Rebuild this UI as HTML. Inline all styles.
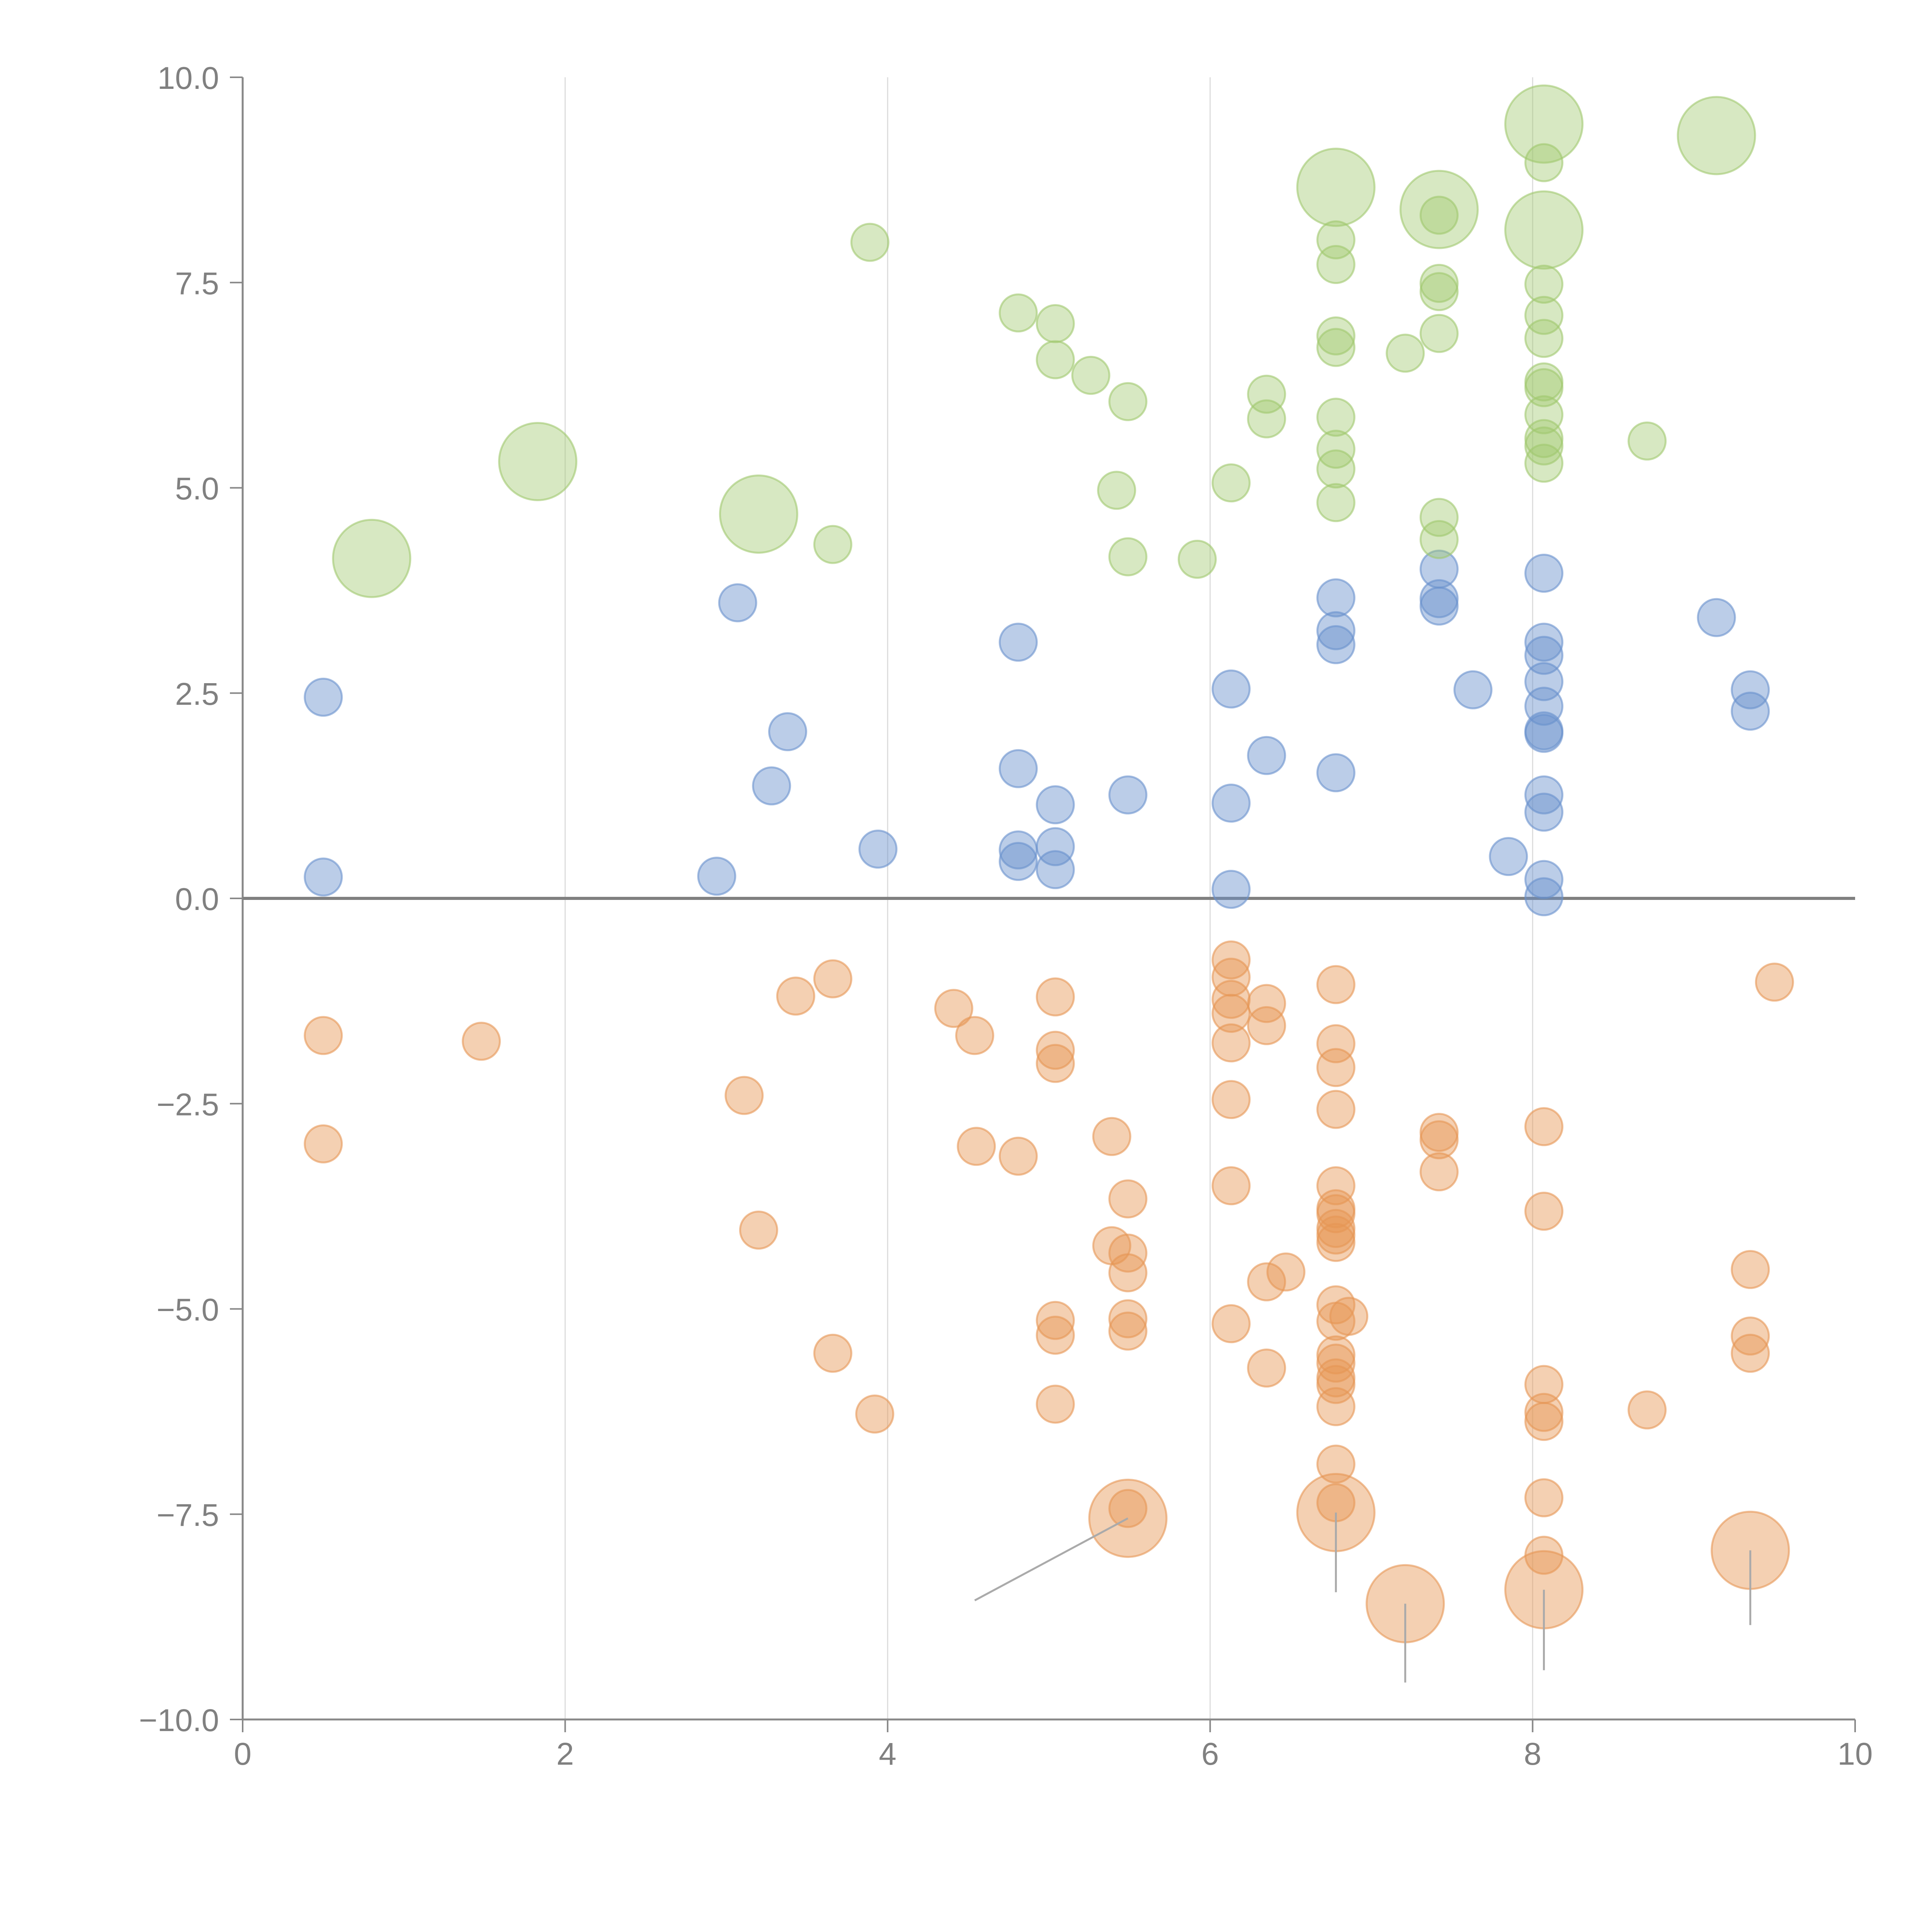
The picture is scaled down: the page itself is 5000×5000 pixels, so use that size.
<!DOCTYPE html>
<html><head><meta charset="utf-8"><style>html,body{margin:0;padding:0;background:#fff}svg{display:block}</style></head>
<body>
<svg id="chart" width="5000" height="5000" viewBox="0 0 5000 5000" xmlns="http://www.w3.org/2000/svg" font-family="Liberation Sans, sans-serif">
<g id="grid"></g>
<g id="axes"></g>
<g id="marks"></g>
</svg>
<script>
const xTicks=[0,2,4,6,8,10];
const yTicks=[10,7.5,5,2.5,0,-2.5,-5,-7.5,-10];
const yTickLabels=["10.0","7.5","5.0","2.5","0.0","\u22122.5","\u22125.0","\u22127.5","\u221210.0"];
const blueX=[0.50,0.50,3.07,3.38,3.28,2.94,3.94,4.81,4.81,4.81,4.81,5.04,5.04,5.04,5.49,6.13,6.13,6.13,6.35,6.78,6.78,6.78,6.78,7.42,7.42,7.42,7.63,7.85,8.07,8.07,8.07,8.07,8.07,8.07,8.07,8.07,8.07,8.07,8.07,9.14,9.35,9.35];
const blueY=[2.45,0.26,3.60,2.03,1.37,0.27,0.60,3.12,1.58,0.59,0.45,1.14,0.63,0.35,1.26,2.55,1.16,0.11,1.74,3.66,3.26,3.09,1.53,4.01,3.65,3.56,2.54,0.51,3.96,3.12,2.96,2.64,2.34,2.04,2.01,1.26,1.05,0.23,0.02,3.42,2.54,2.28];
const greenX=[3.89,4.81,5.04,5.04,5.26,5.49,5.42,5.49,3.66,5.92,6.13,6.35,6.35,6.78,6.78,6.78,6.78,6.78,6.78,6.78,6.78,7.21,7.42,7.42,7.42,7.42,7.42,7.42,8.07,8.07,8.07,8.07,8.07,8.07,8.07,8.07,8.07,8.07,8.71];
const greenY=[7.99,7.13,7.00,6.56,6.37,6.05,4.97,4.16,4.31,4.13,5.06,6.14,5.84,8.02,7.72,6.85,6.71,5.86,5.47,5.23,4.82,6.64,8.32,7.49,7.39,6.88,4.64,4.37,8.96,7.48,7.10,6.82,6.29,6.22,5.89,5.60,5.51,5.30,5.57];
const greenBigX=[0.80,1.83,3.20,6.78,7.42,8.07,8.07,9.14];
const greenBigY=[4.14,5.32,4.68,8.66,8.39,9.43,8.14,9.29];
const orangeX=[0.50,0.50,1.48,3.11,3.20,3.43,3.66,3.66,3.92,4.41,4.54,4.55,4.81,5.04,5.04,5.04,5.04,5.04,5.04,5.39,5.39,5.49,5.49,5.49,5.49,5.49,5.49,6.13,6.13,6.13,6.13,6.13,6.13,6.13,6.13,6.35,6.35,6.35,6.35,6.47,6.78,6.78,6.78,6.78,6.78,6.78,6.78,6.78,6.78,6.78,6.78,6.78,6.78,6.78,6.78,6.78,6.78,6.78,6.78,6.86,7.42,7.42,7.42,8.07,8.07,8.07,8.07,8.07,8.07,8.07,8.71,9.35,9.35,9.35,9.50];
const orangeY=[-1.67,-2.99,-1.74,-2.40,-4.04,-1.19,-0.98,-5.54,-6.28,-1.34,-1.67,-3.02,-3.14,-1.20,-1.85,-2.01,-5.14,-5.32,-6.16,-2.90,-4.23,-3.66,-4.32,-4.56,-5.12,-5.27,-7.43,-0.75,-0.96,-1.23,-1.40,-1.76,-2.45,-3.50,-5.18,-1.28,-1.55,-4.67,-5.72,-4.55,-1.05,-1.77,-2.06,-2.57,-3.50,-3.78,-3.84,-4.02,-4.10,-4.19,-4.95,-5.15,-5.56,-5.66,-5.84,-5.92,-6.19,-6.89,-7.36,-5.09,-2.85,-2.94,-3.33,-2.78,-3.81,-5.92,-6.26,-6.37,-7.30,-8.00,-6.23,-4.52,-5.33,-5.54,-1.02];
const orangeBigX=[5.49,6.78,7.21,8.07,9.35];
const orangeBigY=[-7.55,-7.48,-8.59,-8.42,-7.94];
const leaderEndX=[4.54,6.78,7.21,8.07,9.35];
const leaderEndY=[-8.55,-8.45,-9.55,-9.40,-8.85];

const NS="http://www.w3.org/2000/svg";
const X0=628,X1=4801,Y0=4450,Y1=200;
function sx(v){return X0+(v-0)/(10-0)*(X1-X0);}
function sy(v){return Y0-(v+10)/20*(Y0-Y1);}
function mk(t,a,p){const e=document.createElementNS(NS,t);for(const k in a)e.setAttribute(k,a[k]);p.appendChild(e);return e;}
const grid=document.getElementById('grid'),axes=document.getElementById('axes'),marks=document.getElementById('marks');
[2,4,6,8].forEach(v=>{
  const l=mk('line',{x1:sx(v),x2:sx(v),y1:Y1,y2:Y0,stroke:'#dcdcdc','stroke-width':3},grid);
  
  
});
let a=mk('line',{x1:X0,x2:X0,y1:Y1,y2:Y0,stroke:'#888','stroke-width':5},axes);


a=mk('line',{x1:X0,x2:X1,y1:Y0,y2:Y0,stroke:'#888','stroke-width':5},axes);


xTicks.forEach(v=>{
  const t=mk('line',{x1:sx(v),x2:sx(v),y1:Y0,y2:Y0+33,stroke:'#888','stroke-width':4},axes);
  
  
  const tx=mk('text',{x:sx(v),y:4567,'text-anchor':'middle','font-size':82,fill:'#808080'},axes);
  tx.textContent=String(v);
  
  
});
yTicks.forEach((v,i)=>{
  const t=mk('line',{x1:X0-33,x2:X0,y1:sy(v),y2:sy(v),stroke:'#888','stroke-width':4},axes);
  
  
  const tx=mk('text',{x:567,y:sy(v)+30,'text-anchor':'end','font-size':82,fill:'#808080'},axes);
  tx.textContent=yTickLabels[i];
  
  
});
function series(xs,ys,r,fill,stroke,name){
  xs.forEach((x,i)=>{
    const c=mk('circle',{cx:sx(x),cy:sy(ys[i]),r:r,fill:fill,stroke:stroke,'stroke-width':5},marks);
    
    
  });
}
series(blueX,blueY,48,'rgba(105,145,205,0.45)','rgba(105,145,205,0.6)','blue');
series(greenX,greenY,48,'rgba(160,200,110,0.42)','rgba(160,200,110,0.6)','green');
series(greenBigX,greenBigY,100,'rgba(160,200,110,0.42)','rgba(160,200,110,0.6)','green-large');
series(orangeX,orangeY,48,'rgba(230,150,85,0.45)','rgba(230,150,85,0.6)','orange');
series(orangeBigX,orangeBigY,100,'rgba(230,150,85,0.45)','rgba(230,150,85,0.6)','orange-large');
orangeBigX.forEach((x,i)=>{
  const l=mk('line',{x1:sx(x),y1:sy(orangeBigY[i]),x2:sx(leaderEndX[i]),y2:sy(leaderEndY[i]),stroke:'#aaa','stroke-width':5},marks);
  
  
});
const z=mk('line',{x1:X0,x2:X1,y1:sy(0),y2:sy(0),stroke:'#808080','stroke-width':8},axes);


</script>
</body></html>
